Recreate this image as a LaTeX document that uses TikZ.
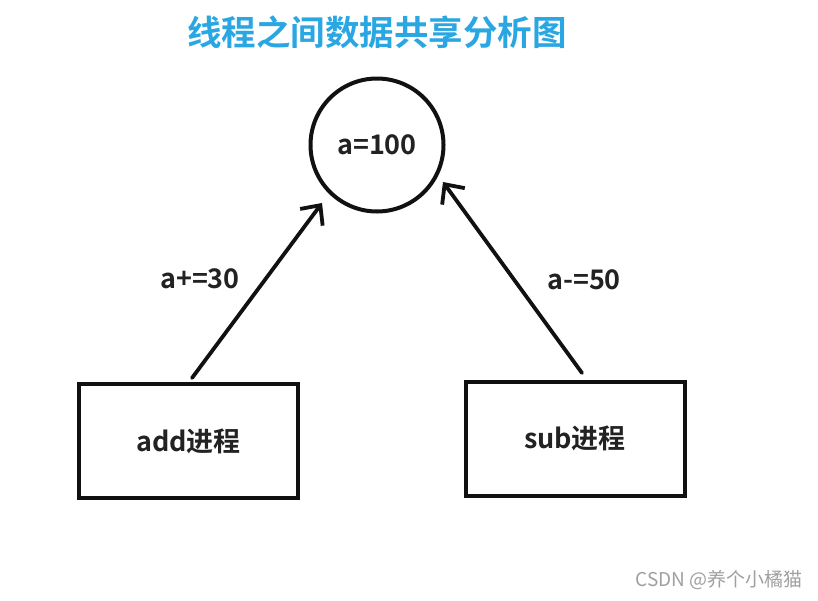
\documentclass[tikz,border=0pt]{standalone}
\usepackage{fontspec}
\setmainfont{Noto Sans CJK SC}
\newfontfamily\cjkbold{Noto Sans CJK SC Bold}
\usetikzlibrary{arrows.meta}
\definecolor{titleblue}{HTML}{2AA7E2}
\definecolor{ink}{HTML}{111111}
\definecolor{txt}{HTML}{222222}
\definecolor{wm}{HTML}{A0A0A0}
\tikzset{
  procbox/.style={draw=ink,line width=4pt,minimum width=219pt,minimum height=114pt,inner sep=0pt},
  varcircle/.style={draw=ink,line width=4pt,circle,minimum size=133pt,inner sep=0pt},
  conn/.style={draw=ink,line width=3.8pt,line cap=round,-{Straight Barb[length=15pt,width=28pt,line width=3.8pt]}},
  lbl/.style={text=txt,font=\cjkbold\fontsize{27}{30}\selectfont},
}
\begin{document}
\begin{tikzpicture}[x=1pt,y=-1pt]
\useasboundingbox[fill=white] (0,0) rectangle (818,600);
\node[text=titleblue,font=\cjkbold\fontsize{34.5}{38}\selectfont] (title) at (377,32) {线程之间数据共享分析图};
\node[varcircle,lbl] (a) at (377,145) {a=100};
\node[procbox,lbl] (add) at (188.5,441) {add进程};
\node[procbox,lbl] (sub) at (575,438.5) {sub进程};
\coordinate (addtip) at (322,203);
\coordinate (subtip) at (443,182);
\coordinate (addstart) at (192,378);
\coordinate (substart) at (582,373);
\draw[conn] (addstart) -- (addtip);
\draw[conn] (substart) -- (subtip);
\node[lbl] (l1) at (200,279) {a+=30};
\node[lbl] (l2) at (584,280) {a-=50};
\node[text=wm,font=\fontsize{19}{22}\selectfont,anchor=east] (wmk) at (806,580) {CSDN @养个小橘猫};
\end{tikzpicture}
\end{document}
